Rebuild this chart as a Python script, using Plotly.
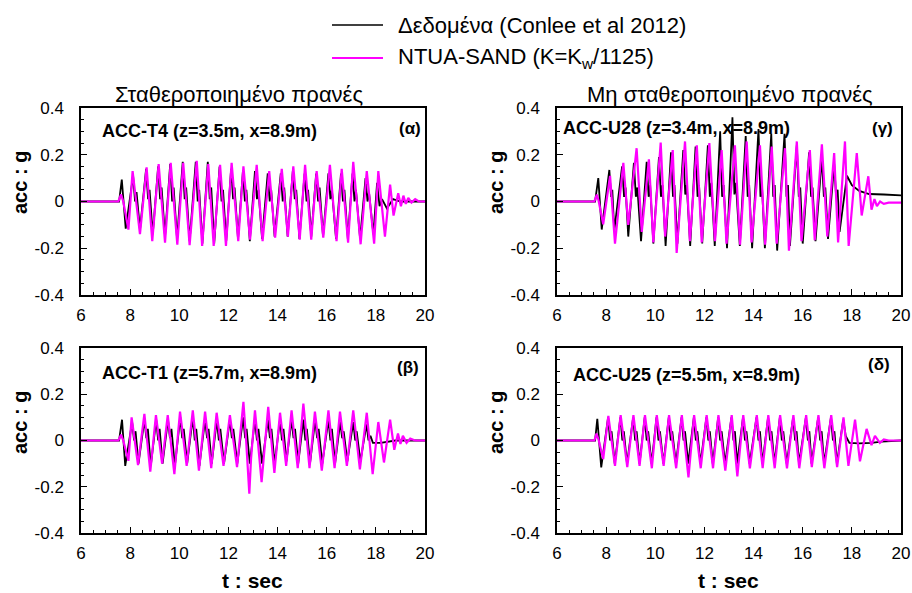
import plotly.graph_objects as go

# ---------------- data (t [s], acc [g]) ----------------
# Panel (α) ACC-T4
alpha_data = [
    (6.0, 0), (7.55, 0), (7.66, 0.094), (7.72, 0.0), (7.82, -0.116),
    (8.12, 0.11), (8.20, 0.0), (8.26, 0.04), (8.40, -0.12),
    (8.65, 0.14), (8.73, 0.01), (8.79, 0.05), (8.92, -0.14),
    (9.14, 0.15), (9.22, 0.01), (9.28, 0.06), (9.42, -0.15),
    (9.63, 0.16), (9.71, 0.0), (9.77, 0.06), (9.91, -0.16),
    (10.14, 0.17), (10.22, 0.01), (10.28, 0.06), (10.42, -0.17),
    (10.67, 0.17), (10.75, 0.0), (10.81, 0.05), (10.94, -0.18),
    (11.16, 0.17), (11.24, 0.01), (11.30, 0.06), (11.42, -0.18),
    (11.64, 0.15), (11.72, 0.0), (11.78, 0.05), (11.91, -0.17),
    (12.11, 0.14), (12.19, 0.01), (12.25, 0.06), (12.39, -0.16),
    (12.59, 0.13), (12.67, 0.0), (12.73, 0.05), (12.87, -0.17),
    (13.08, 0.13), (13.16, 0.01), (13.22, 0.05), (13.37, -0.16),
    (13.60, 0.12), (13.68, 0.0), (13.74, 0.05), (13.88, -0.15),
    (14.13, 0.12), (14.21, 0.0), (14.27, 0.06), (14.41, -0.15),
    (14.62, 0.13), (14.70, 0.01), (14.76, 0.05), (14.89, -0.16),
    (15.10, 0.12), (15.18, 0.0), (15.24, 0.05), (15.37, -0.15),
    (15.57, 0.12), (15.65, 0.0), (15.71, 0.06), (15.85, -0.15),
    (16.07, 0.12), (16.15, 0.01), (16.21, 0.05), (16.38, -0.16),
    (16.58, 0.12), (16.66, 0.0), (16.72, 0.05), (16.86, -0.16),
    (17.05, 0.12), (17.13, 0.0), (17.19, 0.05), (17.36, -0.16),
    (17.58, 0.10), (17.66, 0.0), (17.72, 0.04), (17.90, -0.14),
    (18.05, 0.08), (18.15, -0.02), (18.25, 0.01), (18.45, -0.03),
    (18.7, 0.01), (19.0, 0.0), (20.0, 0.0),
]
alpha_model = [
    (6.0, 0), (7.52, 0), (7.63, 0.03), (7.72, 0.0), (7.93, -0.12),
    (8.10, 0.13), (8.40, -0.14), (8.67, 0.146), (8.90, -0.17),
    (9.16, 0.16), (9.42, -0.176), (9.65, 0.165), (9.92, -0.185),
    (10.16, 0.165), (10.42, -0.187), (10.71, 0.174), (10.93, -0.19),
    (11.18, 0.16), (11.40, -0.19), (11.66, 0.157), (11.90, -0.19),
    (12.13, 0.165), (12.40, -0.17), (12.61, 0.15), (12.88, -0.163),
    (13.15, 0.157), (13.39, -0.17), (13.66, 0.13), (13.90, -0.155),
    (14.17, 0.14), (14.42, -0.15), (14.64, 0.15), (14.90, -0.163),
    (15.12, 0.157), (15.37, -0.163), (15.59, 0.13), (15.86, -0.155),
    (16.13, 0.157), (16.40, -0.17), (16.61, 0.14), (16.87, -0.176),
    (17.08, 0.17), (17.38, -0.183), (17.63, 0.13), (17.93, -0.18),
    (18.10, 0.13), (18.37, -0.15), (18.58, 0.072), (18.72, -0.06),
    (18.91, 0.035), (19.02, -0.02), (19.12, 0.025), (19.22, -0.01),
    (19.32, 0.015), (19.45, -0.005), (19.60, 0.01), (19.75, 0.0), (20.0, 0.0),
]

# Panel (β) ACC-T1
beta_data = [
    (6.0, 0), (7.55, 0), (7.67, 0.09), (7.73, 0.0), (7.80, -0.11),
    (8.08, 0.08), (8.16, 0.0), (8.22, 0.04), (8.34, -0.10),
    (8.58, 0.09), (8.66, 0.01), (8.72, 0.05), (8.84, -0.11),
    (9.06, 0.09), (9.14, 0.0), (9.20, 0.05), (9.32, -0.10),
    (9.54, 0.09), (9.62, 0.01), (9.68, 0.05), (9.82, -0.11),
    (10.04, 0.10), (10.12, 0.01), (10.18, 0.05), (10.32, -0.10),
    (10.55, 0.10), (10.63, 0.0), (10.69, 0.05), (10.82, -0.11),
    (11.05, 0.09), (11.13, 0.01), (11.19, 0.05), (11.32, -0.10),
    (11.53, 0.09), (11.61, 0.0), (11.67, 0.05), (11.82, -0.10),
    (12.06, 0.09), (12.14, 0.01), (12.20, 0.05), (12.36, -0.10),
    (12.60, 0.10), (12.68, 0.01), (12.74, 0.05), (12.87, -0.10),
    (13.08, 0.09), (13.16, 0.0), (13.22, 0.05), (13.37, -0.10),
    (13.61, 0.09), (13.69, 0.01), (13.75, 0.05), (13.88, -0.10),
    (14.10, 0.09), (14.18, 0.0), (14.24, 0.05), (14.36, -0.09),
    (14.57, 0.09), (14.65, 0.01), (14.71, 0.05), (14.84, -0.10),
    (15.05, 0.09), (15.13, 0.0), (15.19, 0.05), (15.32, -0.10),
    (15.53, 0.09), (15.61, 0.01), (15.67, 0.05), (15.82, -0.10),
    (16.07, 0.09), (16.15, 0.0), (16.21, 0.05), (16.34, -0.10),
    (16.55, 0.08), (16.63, 0.01), (16.69, 0.04), (16.84, -0.09),
    (17.08, 0.08), (17.16, 0.0), (17.22, 0.04), (17.37, -0.09),
    (17.62, 0.07), (17.70, 0.0), (17.78, 0.02), (17.88, -0.01),
    (18.2, -0.01), (18.5, -0.005), (18.8, 0.0), (20.0, 0.0),
]
beta_model = [
    (6.0, 0), (7.52, 0), (7.63, 0.025), (7.72, 0.0), (7.93, -0.088),
    (8.06, 0.10), (8.32, -0.106), (8.58, 0.115), (8.82, -0.135),
    (9.05, 0.11), (9.30, -0.10), (9.53, 0.11), (9.80, -0.145),
    (10.03, 0.125), (10.30, -0.11), (10.55, 0.13), (10.80, -0.13),
    (11.05, 0.125), (11.30, -0.12), (11.52, 0.12), (11.80, -0.11),
    (12.06, 0.11), (12.35, -0.115), (12.61, 0.167), (12.72, 0.0),
    (12.85, -0.23), (12.92, -0.08), (13.08, 0.13), (13.35, -0.18),
    (13.62, 0.145), (13.87, -0.14), (14.10, 0.12), (14.35, -0.11),
    (14.57, 0.13), (14.82, -0.12), (15.05, 0.16), (15.30, -0.12),
    (15.52, 0.125), (15.80, -0.13), (16.07, 0.13), (16.32, -0.12),
    (16.54, 0.125), (16.82, -0.11), (17.08, 0.13), (17.35, -0.125),
    (17.63, 0.12), (17.87, -0.145), (18.10, 0.08), (18.33, -0.095),
    (18.58, 0.09), (18.75, -0.04), (18.90, 0.03), (19.00, -0.015),
    (19.10, 0.02), (19.25, -0.01), (19.40, 0.008), (19.60, 0.0), (20.0, 0.0),
]

# Panel (γ) ACC-U28
gamma_data = [
    (6.0, 0), (7.55, 0), (7.68, 0.10), (7.74, 0.0), (7.82, -0.12),
    (8.13, 0.135), (8.20, 0.02), (8.25, 0.05), (8.33, -0.125),
    (8.65, 0.15), (8.73, 0.02), (8.79, 0.06), (8.90, -0.15),
    (9.13, 0.165), (9.21, 0.02), (9.27, 0.06), (9.42, -0.17),
    (9.65, 0.17), (9.73, 0.02), (9.79, 0.07), (9.92, -0.18),
    (10.15, 0.19), (10.23, 0.02), (10.29, 0.07), (10.42, -0.19),
    (10.64, 0.21), (10.72, 0.02), (10.78, 0.07), (10.90, -0.18),
    (11.14, 0.22), (11.22, 0.03), (11.28, 0.07), (11.42, -0.19),
    (11.64, 0.235), (11.72, 0.02), (11.78, 0.07), (11.91, -0.18),
    (12.14, 0.24), (12.22, 0.02), (12.28, 0.08), (12.42, -0.19),
    (12.64, 0.30), (12.72, 0.02), (12.78, 0.07), (12.92, -0.20),
    (13.14, 0.36), (13.22, 0.03), (13.28, 0.08), (13.44, -0.19),
    (13.68, 0.28), (13.76, 0.02), (13.82, 0.07), (13.94, -0.20),
    (14.20, 0.31), (14.28, 0.02), (14.34, 0.07), (14.46, -0.20),
    (14.72, 0.29), (14.80, 0.02), (14.86, 0.07), (14.96, -0.21),
    (15.26, 0.29), (15.34, 0.02), (15.40, 0.07), (15.48, -0.19),
    (15.76, 0.24), (15.84, 0.02), (15.90, 0.06), (16.00, -0.18),
    (16.26, 0.21), (16.34, 0.02), (16.40, 0.06), (16.52, -0.17),
    (16.78, 0.19), (16.86, 0.02), (16.92, 0.06), (17.03, -0.16),
    (17.28, 0.16), (17.36, 0.02), (17.42, 0.05), (17.50, -0.13),
    (17.80, 0.11), (18.00, 0.07), (18.30, 0.045), (18.70, 0.032),
    (19.3, 0.03), (20.0, 0.026),
]
gamma_model = [
    (6.0, 0), (7.52, 0), (7.62, 0.03), (7.70, 0.0), (7.88, -0.098),
    (8.16, 0.11), (8.36, -0.18), (8.70, 0.165), (8.90, -0.10),
    (9.24, 0.228), (9.45, -0.13), (9.74, 0.18), (9.92, -0.175),
    (10.22, 0.252), (10.40, -0.15), (10.71, 0.22), (10.87, -0.22),
    (11.21, 0.257), (11.41, -0.17), (11.69, 0.24), (11.89, -0.175),
    (12.20, 0.25), (12.43, -0.17), (12.70, 0.22), (12.90, -0.18),
    (13.24, 0.24), (13.45, -0.185), (13.72, 0.257), (13.92, -0.175),
    (14.26, 0.24), (14.47, -0.185), (14.74, 0.235), (14.94, -0.18),
    (15.28, 0.228), (15.44, -0.21), (15.76, 0.257), (15.95, -0.17),
    (16.29, 0.22), (16.49, -0.165), (16.78, 0.245), (17.00, -0.15),
    (17.28, 0.207), (17.44, -0.175), (17.72, 0.257), (17.87, -0.19),
    (18.20, 0.207), (18.40, -0.06), (18.67, 0.108), (18.80, -0.035),
    (18.92, 0.01), (19.02, -0.02), (19.15, 0.0), (19.30, -0.01),
    (19.50, -0.005), (20.0, -0.005),
]

# Panel (δ) ACC-U25
delta_data = [
    (6.0, 0), (7.55, 0), (7.64, 0.094), (7.70, 0.0), (7.80, -0.116),
    (8.08, 0.10), (8.16, 0.0), (8.22, 0.04), (8.35, -0.10),
    (8.58, 0.10), (8.66, 0.0), (8.72, 0.04), (8.85, -0.10),
    (9.10, 0.10), (9.18, 0.0), (9.24, 0.04), (9.36, -0.10),
    (9.57, 0.10), (9.65, 0.0), (9.71, 0.04), (9.85, -0.10),
    (10.05, 0.10), (10.13, 0.0), (10.19, 0.04), (10.33, -0.10),
    (10.55, 0.10), (10.63, 0.0), (10.69, 0.04), (10.84, -0.10),
    (11.07, 0.10), (11.15, 0.0), (11.21, 0.04), (11.34, -0.10),
    (11.57, 0.10), (11.65, 0.0), (11.71, 0.04), (11.84, -0.10),
    (12.08, 0.10), (12.16, 0.0), (12.22, 0.04), (12.34, -0.10),
    (12.56, 0.10), (12.64, 0.0), (12.70, 0.04), (12.84, -0.10),
    (13.10, 0.10), (13.18, 0.0), (13.24, 0.04), (13.33, -0.10),
    (13.57, 0.10), (13.65, 0.0), (13.71, 0.04), (13.84, -0.10),
    (14.12, 0.10), (14.20, 0.0), (14.26, 0.04), (14.36, -0.10),
    (14.59, 0.10), (14.67, 0.0), (14.73, 0.04), (14.85, -0.10),
    (15.07, 0.10), (15.15, 0.0), (15.21, 0.04), (15.35, -0.10),
    (15.61, 0.10), (15.69, 0.0), (15.75, 0.04), (15.85, -0.10),
    (16.13, 0.10), (16.21, 0.0), (16.27, 0.04), (16.36, -0.10),
    (16.63, 0.10), (16.71, 0.0), (16.77, 0.04), (16.87, -0.10),
    (17.15, 0.10), (17.23, 0.0), (17.29, 0.04), (17.39, -0.10),
    (17.65, 0.09), (17.75, 0.02), (17.90, -0.01), (18.3, -0.012),
    (18.8, -0.01), (19.2, -0.005), (20.0, 0.0),
]
delta_model = [
    (6.0, 0), (7.52, 0), (7.61, 0.03), (7.70, 0.0), (7.88, -0.08),
    (8.09, 0.106), (8.36, -0.11), (8.59, 0.11), (8.86, -0.115),
    (9.11, 0.11), (9.36, -0.11), (9.58, 0.11), (9.86, -0.12),
    (10.06, 0.11), (10.34, -0.11), (10.56, 0.11), (10.85, -0.12),
    (11.08, 0.11), (11.35, -0.16), (11.58, 0.11), (11.85, -0.12),
    (12.09, 0.11), (12.35, -0.12), (12.57, 0.11), (12.85, -0.13),
    (13.11, 0.11), (13.34, -0.155), (13.58, 0.11), (13.85, -0.12),
    (14.13, 0.11), (14.37, -0.12), (14.60, 0.11), (14.86, -0.12),
    (15.08, 0.11), (15.36, -0.12), (15.62, 0.11), (15.86, -0.12),
    (16.14, 0.11), (16.37, -0.115), (16.64, 0.11), (16.88, -0.12),
    (17.16, 0.11), (17.40, -0.115), (17.66, 0.10), (17.86, -0.11),
    (18.13, 0.09), (18.33, -0.09), (18.60, 0.05), (18.80, -0.02),
    (18.94, 0.02), (19.14, -0.01), (19.30, 0.005), (19.50, 0.0), (20.0, 0.0),
]

x_ticks = [6, 8, 10, 12, 14, 16, 18, 20]
y_ticks = [-0.4, -0.2, 0, 0.2, 0.4]
y_ticktext = ["-0.4", "-0.2", "0", "0.2", "0.4"]

series_names = ["Δεδομένα (Conlee et al 2012)", "NTUA-SAND (K=K<sub>w</sub>/1125)"]
column_titles = ["Σταθεροποιημένο πρανές", "Μη σταθεροποιημένο πρανές"]
panel_labels = ["ACC-T4 (z=3.5m, x=8.9m)", "ACC-U28 (z=3.4m, x=8.9m)",
                "ACC-T1 (z=5.7m, x=8.9m)", "ACC-U25 (z=5.5m, x=8.9m)"]
panel_tags = ["(α)", "(γ)", "(β)", "(δ)"]
y_title = "acc : g"
x_title = "t : sec"

# ---------------- figure ----------------
W, H = 912, 593
FONT = "Liberation Sans, Arial, sans-serif"
BLACK = "#000000"
MAGENTA = "#ff00ff"


def px_x(v):
    return v / W


def px_y(v):
    return 1 - v / H


# pixel boxes of the four plot areas: (left, right, top, bottom)
boxes = [(81, 425, 108, 295), (557, 901, 108, 295),
         (81, 425, 348, 533), (557, 901, 348, 533)]
datasets = [(alpha_data, alpha_model), (gamma_data, gamma_model),
            (beta_data, beta_model), (delta_data, delta_model)]
# label placement (left x, centre y) and tag placement (right x, centre y)
label_pos = [(100, 131), (561, 128), (100, 373), (571, 375)]
tag_pos = [(423, 128), (895, 128), (421, 367), (892, 364)]

fig = go.Figure()
layout = {}
annotations = []

for i, (box, (dat, mod)) in enumerate(zip(boxes, datasets)):
    n = "" if i == 0 else str(i + 1)
    xa, ya = "x" + n, "y" + n
    l, r, t, b = box
    bottom_row = i >= 2
    layout["xaxis" + n] = dict(
        domain=[px_x(l), px_x(r)], anchor=ya, range=[6, 20], automargin=False,
        tickvals=x_ticks, ticks="inside", ticklen=6, tickwidth=1, tickcolor=BLACK,
        minor=dict(tick0=6, dtick=0.5, ticks="inside", ticklen=3, tickcolor=BLACK),
        showline=True, mirror=True, linecolor=BLACK, linewidth=1.5,
        showgrid=False, zeroline=False, ticklabelstandoff=4,
        tickfont=dict(family=FONT, size=17, color=BLACK),
    )
    layout["yaxis" + n] = dict(
        domain=[px_y(b), px_y(t)], anchor=xa, range=[-0.4, 0.4], automargin=False,
        tickvals=y_ticks, ticktext=y_ticktext, ticks="inside", ticklen=6,
        tickwidth=1, tickcolor=BLACK,
        minor=dict(tick0=0, dtick=0.05, ticks="inside", ticklen=3, tickcolor=BLACK),
        showline=True, mirror=True, linecolor=BLACK, linewidth=1.5,
        showgrid=False, zeroline=False, ticklabelstandoff=12,
        tickfont=dict(family=FONT, size=17, color=BLACK),
    )
    fig.add_trace(go.Scatter(
        x=[p[0] for p in dat], y=[p[1] for p in dat], mode="lines",
        line=dict(color=BLACK, width=1.8), name=series_names[0],
        xaxis=xa, yaxis=ya, showlegend=False))
    fig.add_trace(go.Scatter(
        x=[p[0] for p in mod], y=[p[1] for p in mod], mode="lines",
        line=dict(color=MAGENTA, width=2.2), name=series_names[1],
        xaxis=xa, yaxis=ya, showlegend=False))
    # panel labels
    lx, ly = label_pos[i]
    annotations.append(dict(
        text="<b>" + panel_labels[i] + "</b>", xref="paper", yref="paper",
        x=px_x(lx), y=px_y(ly), xanchor="left", yanchor="middle",
        showarrow=False, font=dict(family=FONT, size=18, color=BLACK)))
    tx, ty = tag_pos[i]
    annotations.append(dict(
        text="<b>" + panel_tags[i] + "</b>", xref="paper", yref="paper",
        x=px_x(tx), y=px_y(ty), xanchor="right", yanchor="middle",
        showarrow=False, font=dict(family=FONT, size=17, color=BLACK)))
    # y-axis title (rotated), placed as in the reference
    annotations.append(dict(
        text="<b>" + y_title + "</b>", xref="paper", yref="paper",
        x=px_x(l - 61), y=px_y(t + 75), xanchor="center", yanchor="middle",
        textangle=-90, showarrow=False,
        font=dict(family=FONT, size=20, color=BLACK)))
    # x-axis title below the bottom row
    if bottom_row:
        annotations.append(dict(
            text="<b>" + x_title + "</b>", xref="paper", yref="paper",
            x=px_x((l + r) / 2 - 1), y=px_y(b + 47), xanchor="center",
            yanchor="middle", showarrow=False,
            font=dict(family=FONT, size=21, color=BLACK)))

# column titles
for cx, txt in zip([239, 730], column_titles):
    annotations.append(dict(
        text=txt, xref="paper", yref="paper", x=px_x(cx), y=px_y(95),
        xanchor="center", yanchor="middle", showarrow=False,
        font=dict(family=FONT, size=22, color=BLACK)))

# legend (drawn as line samples + text)
shapes = []
for yy, col, name in [(25, BLACK, series_names[0]), (58, MAGENTA, series_names[1])]:
    shapes.append(dict(type="line", xref="paper", yref="paper",
                       x0=px_x(332), x1=px_x(383), y0=px_y(yy), y1=px_y(yy),
                       line=dict(color=col, width=1.6 if col == BLACK else 2)))
    annotations.append(dict(
        text=name, xref="paper", yref="paper", x=px_x(396), y=px_y(yy),
        xanchor="left", yanchor="middle", showarrow=False,
        font=dict(family=FONT, size=22, color=BLACK)))

fig.update_layout(
    width=W, height=H, margin=dict(l=0, r=0, t=0, b=0, autoexpand=False),
    paper_bgcolor="white", plot_bgcolor="white",
    showlegend=False, annotations=annotations, shapes=shapes,
    **layout)

fig.write_html("out.html", config={"displayModeBar": False},
               post_script="document.body.style.margin='0px';"
                           "document.body.style.overflow='hidden';")
